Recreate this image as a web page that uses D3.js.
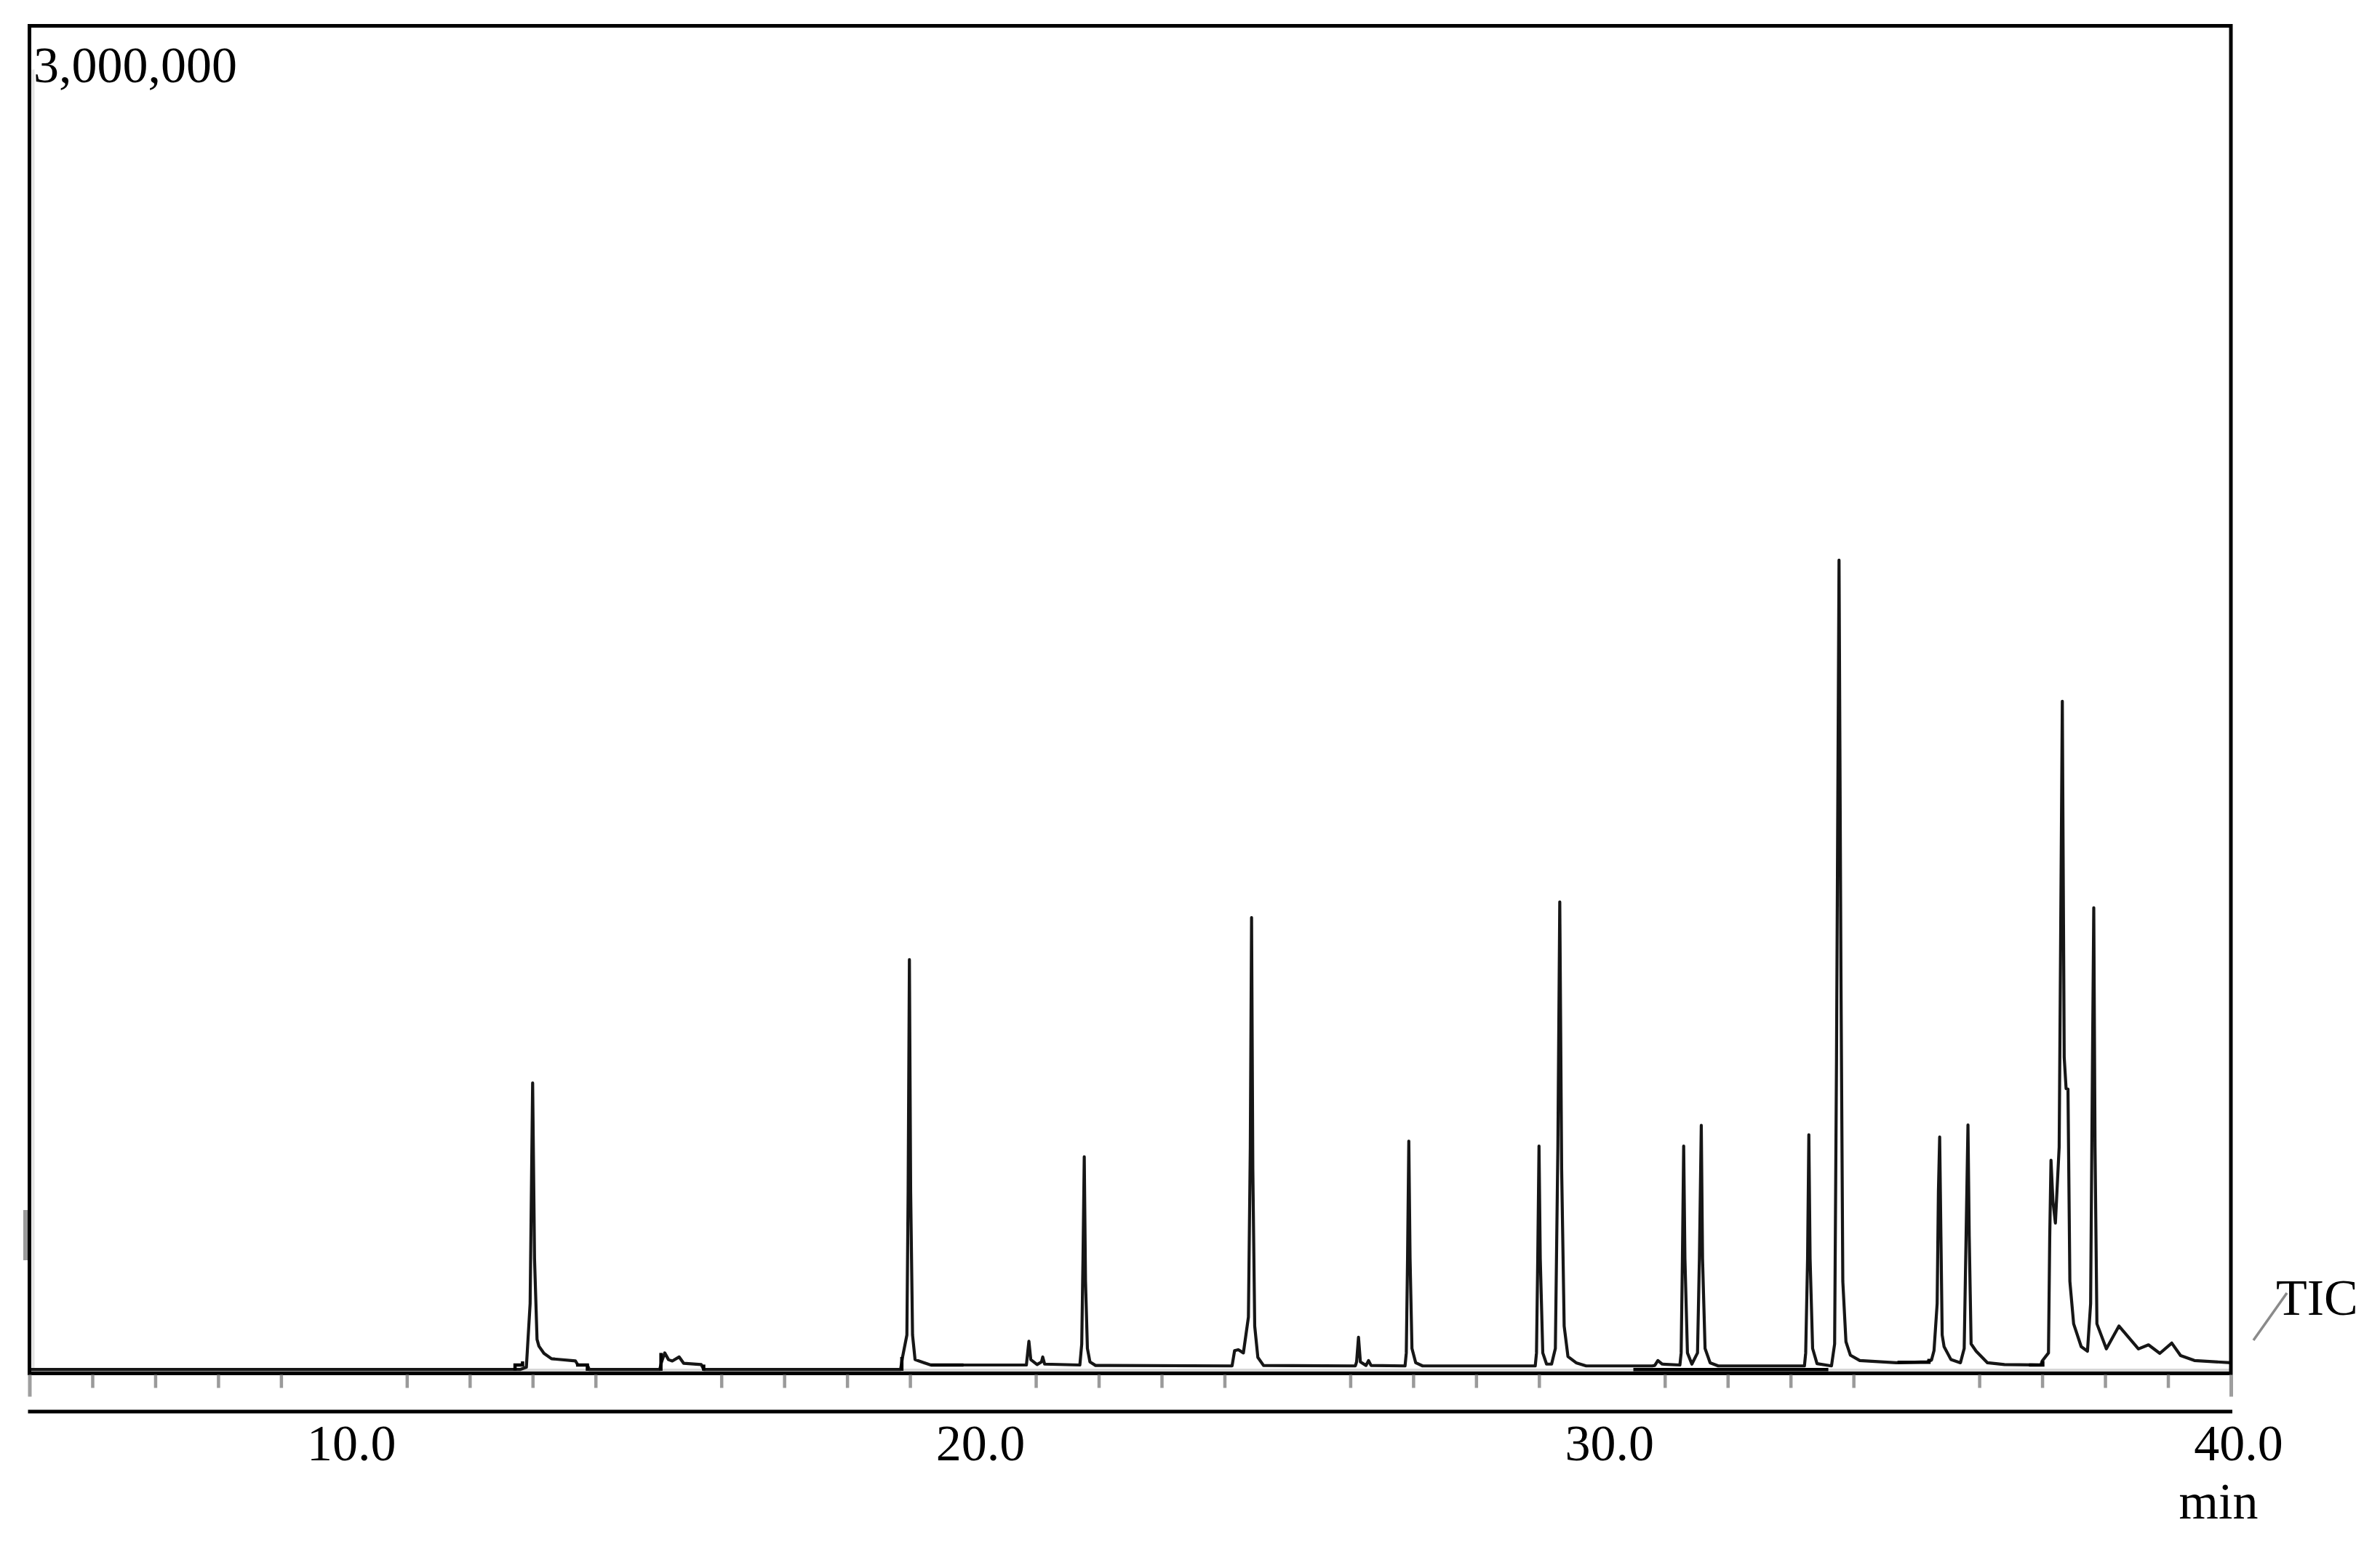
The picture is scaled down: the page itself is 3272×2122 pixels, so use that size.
<!DOCTYPE html>
<html>
<head>
<meta charset="utf-8">
<script src="https://cdn.jsdelivr.net/npm/d3@7/dist/d3.min.js"></script>
<style>
  html, body { margin: 0; padding: 0; background: #fff; }
  svg { display: block; }
  text { font-family: "Liberation Serif", "Times New Roman", serif; fill: #000; }
</style>
</head>
<body>
<svg id="chart" width="3272" height="2122"></svg>
<script>
// ---------- data ----------
const yMaxLabel = "3,000,000";
const xTickLabels = [10, 20, 30, 40];
const minorTicks = [6,7,8,9,11,12,13,14,16,17,18,19,21,22,23,24,26,27,28,29,31,32,33,34,36,37,38,39];
const majorEdgeTicks = [5, 40];
const traceName = "TIC";
const xUnit = "min";

// TIC trace: [retention time (min), intensity (counts)]
const tic = [
  [5.00, 3000], [12.80, 3000],
  [12.90, 8000], [12.96, 150000], [13.00, 643000], [13.03, 250000], [13.07, 70000], [13.10, 55000],
  [13.18, 39000], [13.30, 27000], [13.68, 22000], [13.72, 13000], [13.87, 13000], [13.90, 3000],
  [15.02, 3000], [15.05, 20000], [15.10, 40000], [15.16, 25000], [15.22, 22000], [15.33, 31000],
  [15.40, 17000], [15.68, 14000], [15.72, 3000],
  [18.85, 3000], [18.88, 30000], [18.95, 80000], [18.97, 400000], [18.99, 918000], [19.01, 400000],
  [19.04, 80000], [19.08, 25000], [19.16, 21000], [19.33, 13000],
  [20.85, 13000], [20.87, 40000], [20.89, 66000], [20.92, 25000], [21.02, 14000], [21.09, 20000],
  [21.11, 31000], [21.14, 15000], [21.70, 13000], [21.73, 60000], [21.75, 250000], [21.77, 478000],
  [21.79, 200000], [21.82, 50000], [21.86, 20000], [21.95, 12000],
  [24.12, 11000], [24.16, 45000], [24.22, 47000], [24.30, 40000], [24.38, 120000], [24.41, 500000],
  [24.43, 1012000], [24.45, 450000], [24.48, 100000], [24.53, 30000], [24.62, 12000],
  [26.08, 11000], [26.10, 20000], [26.13, 75000], [26.16, 20000], [26.25, 12000], [26.29, 23000], [26.33, 12000],
  [26.87, 11000], [26.89, 40000], [26.91, 250000], [26.93, 513000], [26.95, 250000], [26.98, 50000],
  [27.04, 18000], [27.15, 11000],
  [28.94, 11000], [28.96, 40000], [28.98, 250000], [29.00, 502000], [29.02, 250000], [29.06, 40000],
  [29.12, 15000], [29.20, 15000], [29.26, 50000], [29.30, 500000], [29.33, 1047000], [29.36, 450000],
  [29.40, 100000], [29.46, 32000], [29.59, 18000], [29.75, 11000],
  [30.80, 11000], [30.84, 12000], [30.89, 23000], [30.96, 15000],
  [31.24, 13000], [31.26, 40000], [31.28, 250000], [31.30, 502000], [31.32, 250000], [31.36, 40000],
  [31.43, 15000], [31.52, 40000], [31.55, 250000], [31.58, 548000], [31.60, 250000], [31.64, 50000],
  [31.72, 18000], [31.85, 11000],
  [33.22, 11000], [33.24, 40000], [33.27, 250000], [33.29, 527000], [33.31, 250000], [33.35, 50000],
  [33.42, 16000], [33.65, 11000], [33.70, 60000], [33.73, 700000], [33.77, 1810000], [33.80, 900000],
  [33.83, 200000], [33.88, 65000], [33.95, 35000], [34.10, 23000], [34.68, 18000], [35.17, 20000],
  [35.24, 24000], [35.28, 45000], [35.33, 150000], [35.35, 400000], [35.37, 522000], [35.39, 300000],
  [35.41, 80000], [35.44, 54000], [35.55, 25000], [35.70, 18000], [35.76, 50000], [35.79, 300000],
  [35.82, 549000], [35.84, 300000], [35.87, 60000], [35.95, 44000], [36.13, 18000], [36.40, 14000],
  [36.98, 13000], [37.00, 22000], [37.10, 40000], [37.12, 300000], [37.14, 470000], [37.17, 380000],
  [37.21, 330000], [37.27, 500000], [37.32, 1495000], [37.35, 700000], [37.38, 630000], [37.41, 629000],
  [37.44, 200000], [37.50, 105000], [37.62, 54000], [37.72, 44000], [37.77, 150000], [37.80, 700000],
  [37.82, 1034000], [37.84, 500000], [37.87, 105000], [38.02, 49000], [38.22, 100000], [38.53, 49000],
  [38.69, 58000], [38.87, 39000], [39.06, 62000], [39.20, 34000], [39.42, 23000], [40.00, 18000]
];

// integration baseline markers drawn by the instrument software
const integrationMarks = [
  [[12.72, 0], [12.72, 13000], [12.84, 13000], [12.84, 21000]],
  [[13.69, 13000], [13.87, 13000], [13.87, 0]],
  [[15.04, 0], [15.04, 40000]],
  [[15.72, 14000], [15.72, 0]],
  [[18.87, 0], [18.87, 31000]],
  [[19.33, 13000], [19.85, 13000]],
  [[30.50, 3000], [33.60, 3000]],
  [[34.70, 19000], [35.20, 19000], [35.20, 27000]],
  [[36.79, 13000], [37.01, 13000], [37.01, 22000]]
];

// ---------- drawing ----------
const W = 3272, H = 2122;
const svg = d3.select("#chart");
svg.append("rect").attr("width", W).attr("height", H).attr("fill", "#fff");

const frame = { left: 40.5, right: 3067, top: 35.5, bottom: 1887.5 };
const x = d3.scaleLinear().domain([5, 40]).range([frame.left, frame.right]);
const y = d3.scaleLinear().domain([0, 3000000]).range([1884, frame.top + 2]);

// faint grey inner guides
svg.append("line")
  .attr("x1", frame.left + 5).attr("x2", frame.left + 5)
  .attr("y1", frame.top + 60).attr("y2", frame.bottom)
  .attr("stroke", "#e4e4e4").attr("stroke-width", 4);
svg.append("line")
  .attr("x1", x(5)).attr("x2", x(40))
  .attr("y1", y(0) - 1).attr("y2", y(0) - 1)
  .attr("stroke", "#d6d6d6").attr("stroke-width", 4);

// left grey marker
svg.append("rect").attr("x", 32).attr("y", 1663).attr("width", 6).attr("height", 69).attr("fill", "#9a9a9a");

// trace
const line = d3.line().x(d => x(d[0])).y(d => y(d[1]));
svg.append("path")
  .datum(tic)
  .attr("d", line)
  .attr("fill", "none")
  .attr("stroke", "#161616")
  .attr("stroke-width", 4.2)
  .attr("stroke-linejoin", "round");

// integration marks
svg.append("g").selectAll("path")
  .data(integrationMarks)
  .join("path")
  .attr("d", line)
  .attr("fill", "none")
  .attr("stroke", "#000")
  .attr("stroke-width", 4.5);

// frame
svg.append("rect")
  .attr("x", frame.left).attr("y", frame.top)
  .attr("width", frame.right - frame.left).attr("height", frame.bottom - frame.top)
  .attr("fill", "none").attr("stroke", "#000").attr("stroke-width", 5);

// minor ticks
const minorAxis = d3.axisBottom(x).tickValues(minorTicks).tickFormat("").tickSizeInner(18).tickSizeOuter(0);
const gMinor = svg.append("g").attr("transform", `translate(0,${frame.bottom + 2})`).call(minorAxis);
gMinor.select(".domain").remove();
gMinor.selectAll(".tick line").attr("stroke", "#9a9a9a").attr("stroke-width", 4.5);

// long edge ticks
const edgeAxis = d3.axisBottom(x).tickValues(majorEdgeTicks).tickFormat("").tickSizeInner(30).tickSizeOuter(0);
const gEdge = svg.append("g").attr("transform", `translate(0,${frame.bottom + 2})`).call(edgeAxis);
gEdge.select(".domain").remove();
gEdge.selectAll(".tick line").attr("stroke", "#9e9e9e").attr("stroke-width", 5);

// lower axis line with labels
const labelAxis = d3.axisBottom(x).tickValues(xTickLabels).tickFormat(d3.format(".1f")).tickSize(0).tickPadding(17);
const gLab = svg.append("g").attr("transform", "translate(0,1940)").call(labelAxis);
gLab.select(".domain").attr("stroke", "#000").attr("stroke-width", 5).attr("d", `M${frame.left - 2},0H${frame.right + 2}`);
gLab.selectAll(".tick text")
  .attr("font-family", "Liberation Serif, Times New Roman, serif")
  .attr("font-size", 70)
  .attr("fill", "#000")
  .attr("dx", 10);

// unit label
svg.append("text").attr("x", 3050).attr("y", 2087).attr("text-anchor", "middle")
  .attr("font-size", 70).text(xUnit);

// y max label
svg.append("text").attr("x", 46).attr("y", 113).attr("font-size", 70).text(yMaxLabel);

// trace label with leader
svg.append("line").attr("x1", 3098).attr("y1", 1842).attr("x2", 3144).attr("y2", 1777)
  .attr("stroke", "#8a8a8a").attr("stroke-width", 3.5);
svg.append("text").attr("x", 3129).attr("y", 1807).attr("font-size", 70).text(traceName);
</script>
</body>
</html>
